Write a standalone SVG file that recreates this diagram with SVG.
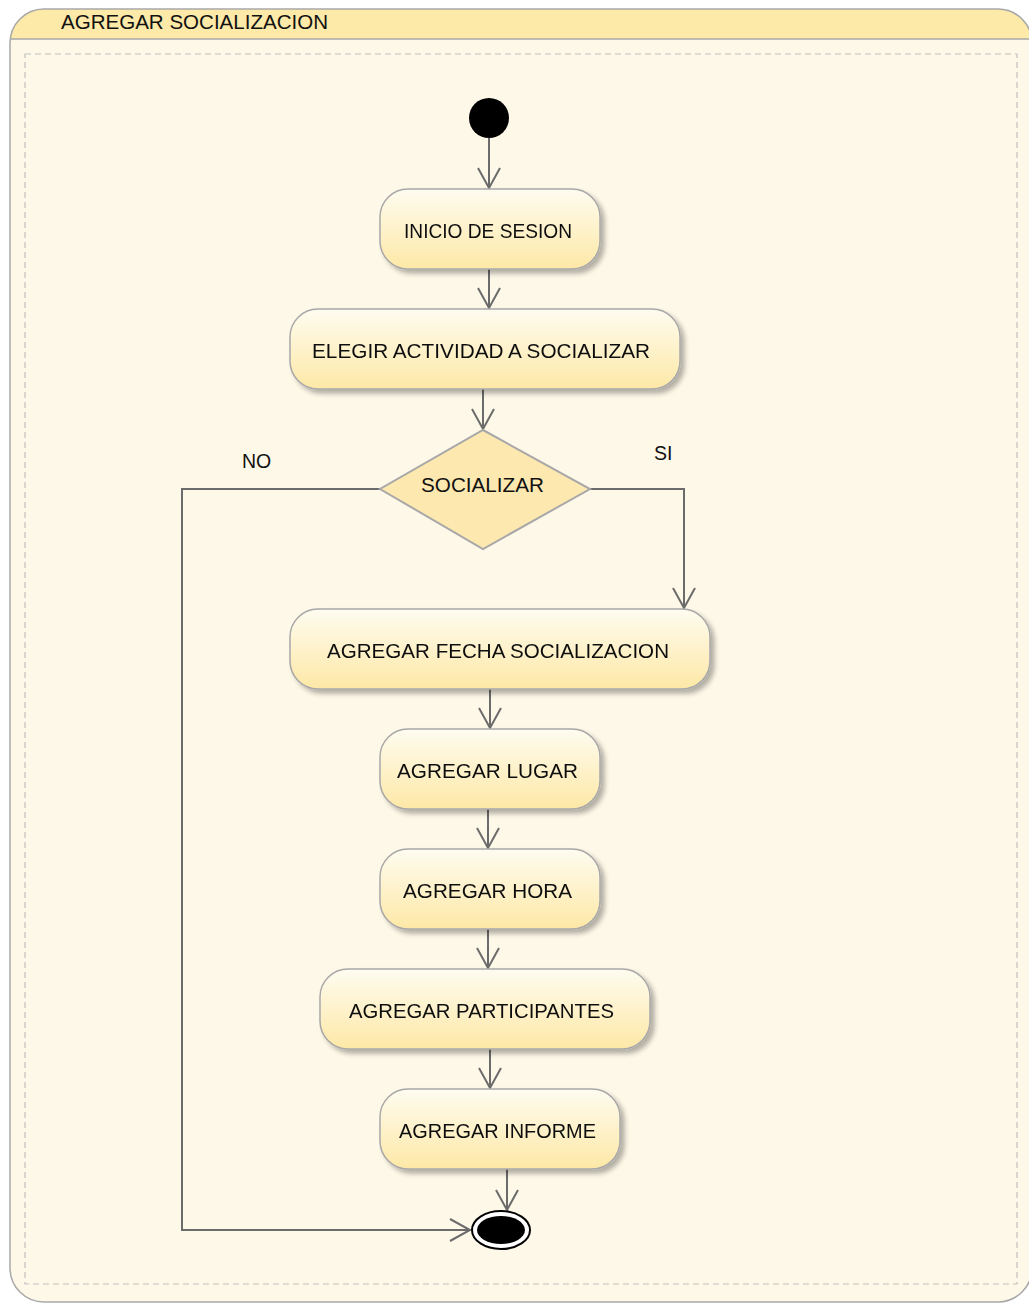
<svg xmlns="http://www.w3.org/2000/svg" width="1029" height="1303" viewBox="0 0 1029 1303">
<style>
.t{font-family:"Liberation Sans",Arial,sans-serif;font-size:19.5px;fill:#111;text-anchor:middle}
.lbl{font-family:"Liberation Sans",Arial,sans-serif;font-size:19.5px;fill:#111}
.act{fill:url(#g);stroke:#a8a8a8;stroke-width:1.5}
.c{fill:none;stroke:#6b6b6b;stroke-width:2}
</style>
<defs>
<linearGradient id="g" x1="0" y1="0" x2="0" y2="1">
<stop offset="0" stop-color="#fefcf0"/>
<stop offset="1" stop-color="#fde8a6"/>
</linearGradient>
<clipPath id="fc"><rect x="10" y="9" width="1022" height="1293" rx="34"/></clipPath>
<filter id="sh" x="-10%" y="-10%" width="130%" height="140%">
<feGaussianBlur in="SourceAlpha" stdDeviation="2.5"/>
<feOffset dx="4" dy="4"/>
<feComponentTransfer><feFuncA type="linear" slope="0.3"/></feComponentTransfer>
<feMerge><feMergeNode/><feMergeNode in="SourceGraphic"/></feMerge>
</filter>
<marker id="a" markerWidth="30" markerHeight="30" refX="22" refY="12" orient="auto" markerUnits="userSpaceOnUse">
<path d="M2,1 L22,12 L2,23" fill="none" stroke="#6b6b6b" stroke-width="2"/>
</marker>
</defs>
<g id="frame">
<rect x="10" y="9" width="1022" height="1293" rx="34" fill="#fef8e8"/>
<rect x="10" y="9" width="1022" height="30" fill="#fde9a8" clip-path="url(#fc)"/>
<line x1="10" y1="39" x2="1029" y2="39" stroke="#a8a8a8" stroke-width="1.5"/>
<rect x="10" y="9" width="1022" height="1293" rx="34" fill="none" stroke="#a8a8a8" stroke-width="1.5"/>
<rect x="25" y="54" width="992" height="1230" fill="none" stroke="#c0c0c0" stroke-width="1.2" stroke-dasharray="6,4"/>
<text class="lbl" x="61" y="29" style="font-size:20.5px" textLength="267" lengthAdjust="spacingAndGlyphs">AGREGAR SOCIALIZACION</text>
</g>
<g id="connectors">
<line class="c" x1="489" y1="138" x2="489" y2="188" marker-end="url(#a)"/>
<line class="c" x1="489" y1="269" x2="489" y2="308" marker-end="url(#a)"/>
<line class="c" x1="483" y1="389" x2="483" y2="429" marker-end="url(#a)"/>
<polyline class="c" points="590,489 684,489 684,608" marker-end="url(#a)"/>
<polyline class="c" points="380,489 182,489 182,1230 470,1230" marker-end="url(#a)"/>
<line class="c" x1="490" y1="689" x2="490" y2="728" marker-end="url(#a)"/>
<line class="c" x1="488" y1="809" x2="488" y2="848" marker-end="url(#a)"/>
<line class="c" x1="488" y1="929" x2="488" y2="968" marker-end="url(#a)"/>
<line class="c" x1="490" y1="1049" x2="490" y2="1088" marker-end="url(#a)"/>
<line class="c" x1="507" y1="1169" x2="507" y2="1210" marker-end="url(#a)"/>
<text class="lbl" x="242" y="468">NO</text>
<text class="lbl" x="654" y="460">SI</text>
</g>
<g id="start"><circle cx="489" cy="118" r="20" fill="#000"/></g>
<g id="inicio" filter="url(#sh)"><rect class="act" x="380" y="189" width="220" height="80" rx="28"/><text class="t" x="488" y="238" textLength="168" lengthAdjust="spacingAndGlyphs">INICIO DE SESION</text></g>
<g id="elegir" filter="url(#sh)"><rect class="act" x="290" y="309" width="390" height="80" rx="28"/><text class="t" x="481" y="358" textLength="338" lengthAdjust="spacingAndGlyphs">ELEGIR ACTIVIDAD A SOCIALIZAR</text></g>
<g id="socializar"><polygon points="483,430 590,489 483,549 380,489" fill="#fde9b0" stroke="#a8a8a8" stroke-width="2"/><text class="t" x="482.5" y="492" textLength="123" lengthAdjust="spacingAndGlyphs">SOCIALIZAR</text></g>
<g id="fecha" filter="url(#sh)"><rect class="act" x="290" y="609" width="420" height="80" rx="28"/><text class="t" x="498" y="658" textLength="342" lengthAdjust="spacingAndGlyphs">AGREGAR FECHA SOCIALIZACION</text></g>
<g id="lugar" filter="url(#sh)"><rect class="act" x="380" y="729" width="220" height="80" rx="28"/><text class="t" x="487.5" y="778" textLength="181" lengthAdjust="spacingAndGlyphs">AGREGAR LUGAR</text></g>
<g id="hora" filter="url(#sh)"><rect class="act" x="380" y="849" width="220" height="80" rx="28"/><text class="t" x="487.5" y="898" textLength="169" lengthAdjust="spacingAndGlyphs">AGREGAR HORA</text></g>
<g id="participantes" filter="url(#sh)"><rect class="act" x="320" y="969" width="330" height="80" rx="28"/><text class="t" x="481.5" y="1018" textLength="265" lengthAdjust="spacingAndGlyphs">AGREGAR PARTICIPANTES</text></g>
<g id="informe" filter="url(#sh)"><rect class="act" x="380" y="1089" width="240" height="80" rx="28"/><text class="t" x="497.5" y="1138" textLength="197" lengthAdjust="spacingAndGlyphs">AGREGAR INFORME</text></g>
<g id="end"><ellipse cx="501" cy="1230" rx="29" ry="19" fill="#fff" stroke="#000" stroke-width="2"/><ellipse cx="501" cy="1230" rx="24" ry="14" fill="#000"/></g>
</svg>
